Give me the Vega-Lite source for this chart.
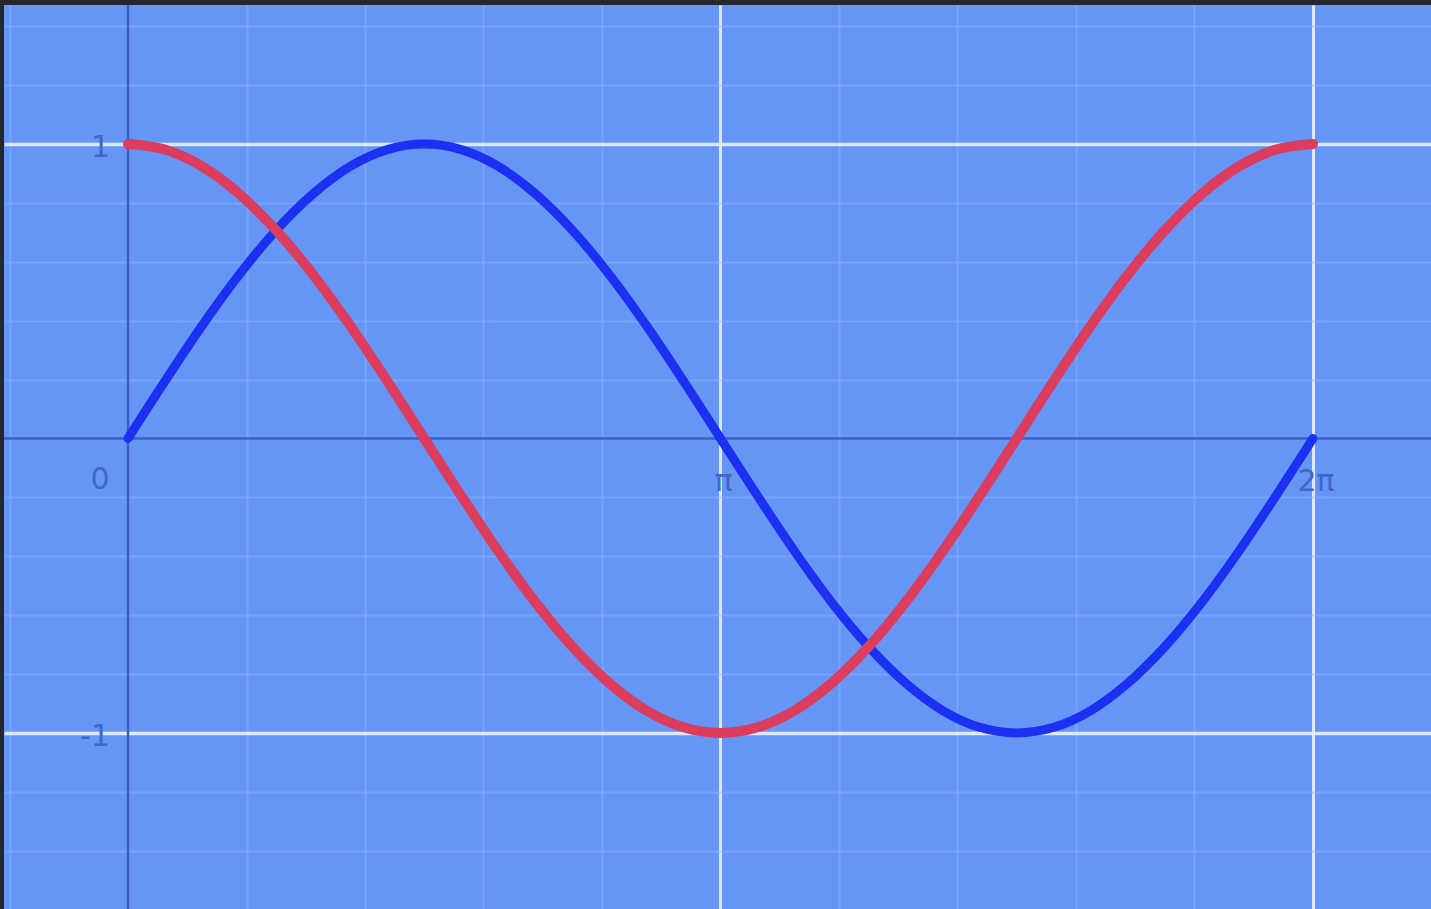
{
  "$schema": "https://vega.github.io/schema/vega-lite/v6.json",
  "width": 1427,
  "height": 904,
  "autosize": "none",
  "padding": {"top": 5, "left": 4, "right": 0, "bottom": 0},
  "background": "#25262e",
  "config": {"view": {"fill": "#6596f6", "stroke": null}},
  "datasets": {
    "curves": [
      {"t": 0, "series": "sin", "v": 0}, {"t": 0.0625, "series": "sin", "v": 0.195}, {"t": 0.125, "series": "sin", "v": 0.383}, {"t": 0.1875, "series": "sin", "v": 0.556},
      {"t": 0.25, "series": "sin", "v": 0.707}, {"t": 0.3125, "series": "sin", "v": 0.831}, {"t": 0.375, "series": "sin", "v": 0.924}, {"t": 0.4375, "series": "sin", "v": 0.981},
      {"t": 0.5, "series": "sin", "v": 1}, {"t": 0.5625, "series": "sin", "v": 0.981}, {"t": 0.625, "series": "sin", "v": 0.924}, {"t": 0.6875, "series": "sin", "v": 0.831},
      {"t": 0.75, "series": "sin", "v": 0.707}, {"t": 0.8125, "series": "sin", "v": 0.556}, {"t": 0.875, "series": "sin", "v": 0.383}, {"t": 0.9375, "series": "sin", "v": 0.195},
      {"t": 1, "series": "sin", "v": 0}, {"t": 1.0625, "series": "sin", "v": -0.195}, {"t": 1.125, "series": "sin", "v": -0.383}, {"t": 1.1875, "series": "sin", "v": -0.556},
      {"t": 1.25, "series": "sin", "v": -0.707}, {"t": 1.3125, "series": "sin", "v": -0.831}, {"t": 1.375, "series": "sin", "v": -0.924}, {"t": 1.4375, "series": "sin", "v": -0.981},
      {"t": 1.5, "series": "sin", "v": -1}, {"t": 1.5625, "series": "sin", "v": -0.981}, {"t": 1.625, "series": "sin", "v": -0.924}, {"t": 1.6875, "series": "sin", "v": -0.831},
      {"t": 1.75, "series": "sin", "v": -0.707}, {"t": 1.8125, "series": "sin", "v": -0.556}, {"t": 1.875, "series": "sin", "v": -0.383}, {"t": 1.9375, "series": "sin", "v": -0.195},
      {"t": 2, "series": "sin", "v": 0},
      {"t": 0, "series": "cos", "v": 1}, {"t": 0.0625, "series": "cos", "v": 0.981}, {"t": 0.125, "series": "cos", "v": 0.924}, {"t": 0.1875, "series": "cos", "v": 0.831},
      {"t": 0.25, "series": "cos", "v": 0.707}, {"t": 0.3125, "series": "cos", "v": 0.556}, {"t": 0.375, "series": "cos", "v": 0.383}, {"t": 0.4375, "series": "cos", "v": 0.195},
      {"t": 0.5, "series": "cos", "v": 0}, {"t": 0.5625, "series": "cos", "v": -0.195}, {"t": 0.625, "series": "cos", "v": -0.383}, {"t": 0.6875, "series": "cos", "v": -0.556},
      {"t": 0.75, "series": "cos", "v": -0.707}, {"t": 0.8125, "series": "cos", "v": -0.831}, {"t": 0.875, "series": "cos", "v": -0.924}, {"t": 0.9375, "series": "cos", "v": -0.981},
      {"t": 1, "series": "cos", "v": -1}, {"t": 1.0625, "series": "cos", "v": -0.981}, {"t": 1.125, "series": "cos", "v": -0.924}, {"t": 1.1875, "series": "cos", "v": -0.831},
      {"t": 1.25, "series": "cos", "v": -0.707}, {"t": 1.3125, "series": "cos", "v": -0.556}, {"t": 1.375, "series": "cos", "v": -0.383}, {"t": 1.4375, "series": "cos", "v": -0.195},
      {"t": 1.5, "series": "cos", "v": 0}, {"t": 1.5625, "series": "cos", "v": 0.195}, {"t": 1.625, "series": "cos", "v": 0.383}, {"t": 1.6875, "series": "cos", "v": 0.556},
      {"t": 1.75, "series": "cos", "v": 0.707}, {"t": 1.8125, "series": "cos", "v": 0.831}, {"t": 1.875, "series": "cos", "v": 0.924}, {"t": 1.9375, "series": "cos", "v": 0.981},
      {"t": 2, "series": "cos", "v": 1}
    ]
  },
  "layer": [
    {
      "data": {"values": [{"t": 0, "v": 0}]},
      "mark": {"type": "point", "opacity": 0},
      "encoding": {
        "x": {"field": "t", "type": "quantitative",
          "scale": {"domain": [-0.2093, 2.1992], "nice": false, "zero": false},
          "axis": {"values": [-0.2, 0.2, 0.4, 0.6, 0.8, 1, 1.2, 1.4, 1.6, 1.8, 2, 2.2],
            "labels": false, "ticks": false, "domain": false, "title": null, "grid": true,
            "gridColor": {"condition": {"test": "datum.value === 1 || datum.value === 2", "value": "#eaf1ff"}, "value": "#8fb4ff"},
            "gridWidth": {"condition": {"test": "datum.value === 1 || datum.value === 2", "value": 3}, "value": 2},
            "gridOpacity": {"condition": {"test": "datum.value === 1 || datum.value === 2", "value": 0.9}, "value": 0.45}}},
        "y": {"field": "v", "type": "quantitative",
          "scale": {"domain": [-1.598, 1.472], "nice": false, "zero": false},
          "axis": {"values": [-1.4, -1.2, -1, -0.8, -0.6, -0.4, -0.2, 0.2, 0.4, 0.6, 0.8, 1, 1.2, 1.4],
            "labels": false, "ticks": false, "domain": false, "title": null, "grid": true,
            "gridColor": {"condition": {"test": "abs(datum.value) === 1", "value": "#eaf1ff"}, "value": "#8fb4ff"},
            "gridWidth": {"condition": {"test": "abs(datum.value) === 1", "value": 3.5}, "value": 2},
            "gridOpacity": {"condition": {"test": "abs(datum.value) === 1", "value": 0.9}, "value": 0.45}}}
      }
    },
    {
      "data": {"values": [{"v": 0}]},
      "mark": {"type": "rule", "color": "#3b5fc6", "strokeWidth": 2.5},
      "encoding": {"y": {"field": "v", "type": "quantitative"}}
    },
    {
      "data": {"values": [{"t": 0}]},
      "mark": {"type": "rule", "color": "#3b5fc6", "strokeWidth": 2.5},
      "encoding": {"x": {"field": "t", "type": "quantitative"}}
    },
    {
      "data": {"values": [{"label": "0", "t": 0, "v": 0}]},
      "mark": {"type": "text", "fontSize": 30, "font": "DejaVu Sans", "color": "#3f66c8", "dx": -28, "dy": 42},
      "encoding": {"x": {"field": "t", "type": "quantitative"}, "y": {"field": "v", "type": "quantitative"}, "text": {"field": "label"}}
    },
    {
      "data": {"values": [{"label": "π", "t": 1, "v": 0}, {"label": "2π", "t": 2, "v": 0}]},
      "mark": {"type": "text", "fontSize": 30, "font": "DejaVu Sans", "color": "#3f66c8", "dx": 3, "dy": 44},
      "encoding": {"x": {"field": "t", "type": "quantitative"}, "y": {"field": "v", "type": "quantitative"}, "text": {"field": "label"}}
    },
    {
      "data": {"values": [{"label": "1", "t": 0, "v": 1}, {"label": "-1", "t": 0, "v": -1}]},
      "mark": {"type": "text", "fontSize": 30, "font": "DejaVu Sans", "color": "#3f66c8", "align": "right", "dx": -18, "dy": 4},
      "encoding": {"x": {"field": "t", "type": "quantitative"}, "y": {"field": "v", "type": "quantitative"}, "text": {"field": "label"}}
    },
    {
      "data": {"name": "curves"},
      "transform": [{"filter": "datum.series === 'sin'"}],
      "mark": {"type": "line", "color": "#1b30f0", "strokeWidth": 9, "interpolate": "monotone", "strokeCap": "round"},
      "encoding": {"x": {"field": "t", "type": "quantitative"}, "y": {"field": "v", "type": "quantitative"}}
    },
    {
      "data": {"name": "curves"},
      "transform": [{"filter": "datum.series === 'cos'"}],
      "mark": {"type": "line", "color": "#dc3c5e", "strokeWidth": 10, "interpolate": "monotone", "strokeCap": "round"},
      "encoding": {"x": {"field": "t", "type": "quantitative"}, "y": {"field": "v", "type": "quantitative"}}
    }
  ]
}
